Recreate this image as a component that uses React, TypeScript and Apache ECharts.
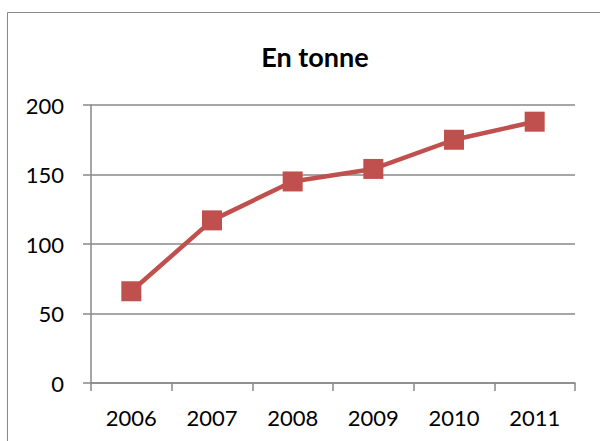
import React, { useEffect, useRef } from "react";
import * as echarts from "echarts";

const title = "En tonne";
const years = ["2006", "2007", "2008", "2009", "2010", "2011"];
const tonnes = [66, 117, 145, 154, 175, 188];
const yMin = 0;
const yMax = 200;
const yStep = 50;

const FONT = "Lato, 'Liberation Sans', sans-serif";
const GRAY = "#898989";
const RED = "#C0504D";

export default function App() {
  const ref = useRef<HTMLDivElement>(null);
  useEffect(() => {
    if (!ref.current) return;
    const chart = echarts.init(ref.current, undefined, { renderer: "svg" });
    chart.setOption({
      animation: false,
      backgroundColor: "#ffffff",
      title: {
        text: title,
        left: 310,
        top: 38,
        textAlign: "center",
        textStyle: { fontFamily: FONT, fontSize: 27, fontWeight: "bold", color: "#000" },
      },
      graphic: [
        {
          type: "rect",
          shape: { x: 7.5, y: 12.5, width: 700, height: 600 },
          style: { fill: "none", stroke: GRAY, lineWidth: 1 },
          silent: true,
        },
      ],
      grid: { left: 91, right: 25, top: 105, bottom: 58 },
      xAxis: {
        type: "category",
        data: years,
        boundaryGap: true,
        axisLine: { lineStyle: { color: GRAY, width: 1.5 } },
        axisTick: { show: true, length: 8, alignWithLabel: false, lineStyle: { color: GRAY, width: 1.5 } },
        axisLabel: { fontFamily: FONT, fontSize: 22, color: "#000", margin: 23 },
        splitLine: { show: false },
      },
      yAxis: {
        type: "value",
        min: yMin,
        max: yMax,
        interval: yStep,
        axisLine: { show: true, lineStyle: { color: GRAY, width: 1.5 } },
        axisTick: { show: true, length: 8, lineStyle: { color: GRAY, width: 1.5 } },
        axisLabel: { fontFamily: FONT, fontSize: 22, color: "#000", margin: 27 },
        splitLine: { show: true, lineStyle: { color: GRAY, width: 1.5 } },
      },
      series: [
        {
          type: "line",
          data: tonnes,
          color: RED,
          lineStyle: { color: RED, width: 4.5 },
          symbol: "rect",
          symbolSize: 20,
          itemStyle: { color: RED },
        },
      ],
    });
    return () => chart.dispose();
  }, []);
  return (
    <div
      ref={ref}
      style={{ position: "fixed", left: 0, top: 0, width: 600, height: 441 }}
    />
  );
}
